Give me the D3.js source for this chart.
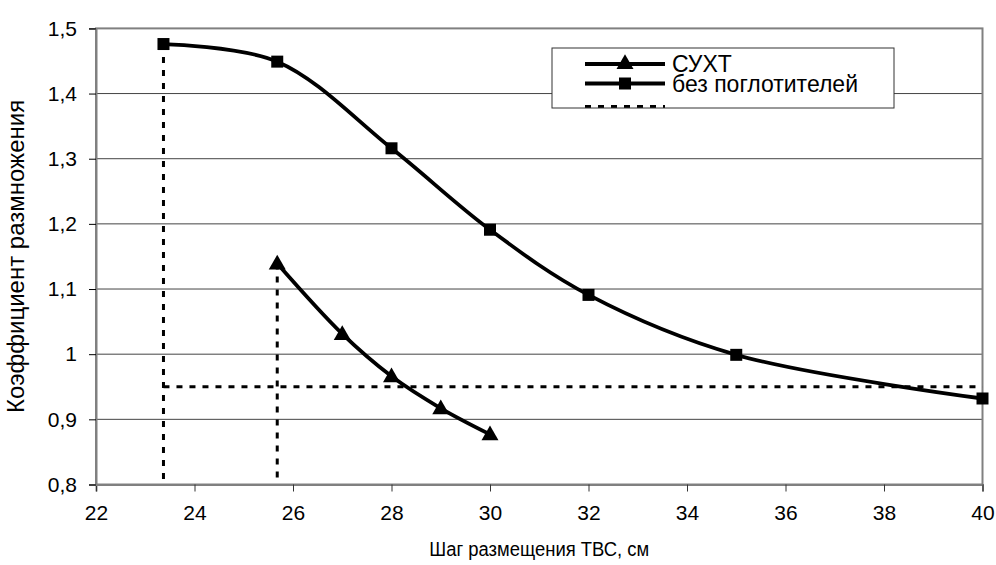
<!DOCTYPE html>
<html>
<head>
<meta charset="utf-8">
<script src="https://cdn.jsdelivr.net/npm/d3@7"></script>
<style>
  body { margin: 0; background: #fff; }
  svg { display: block; font-family: 'Liberation Sans', Arial, sans-serif; }
</style>
</head>
<body>
<div id="chart"></div>
<script>
// shag TVS (cm) and k-eff
const suxtX = [25.68, 27, 28, 29, 30];
const suxtY = [1.139, 1.031, 0.966, 0.917, 0.877];
const bezX = [23.37, 25.68, 28, 30, 32, 35, 40];
const bezY = [1.476, 1.449, 1.316, 1.191, 1.091, 0.999, 0.932];
const refX = [23.37, 25.68];
const refLevel = 0.95;
const xTicks = [22, 24, 26, 28, 30, 32, 34, 36, 38, 40];
const yTicks = [0.8, 0.9, 1, 1.1, 1.2, 1.3, 1.4, 1.5];
const seriesNames = ['СУХТ', 'без поглотителей', ''];

const size = { width: 996, height: 565 };
const margin = { top: 28.4, right: 13.5, bottom: 80.5, left: 96 };

const svg = d3.select('#chart')
  .append('svg')
  .attr('width', size.width)
  .attr('height', size.height);

const x = d3.scaleLinear()
  .domain([22, 40])
  .range([margin.left, size.width - margin.right]);

const y = d3.scaleLinear()
  .domain([0.8, 1.5])
  .range([size.height - margin.bottom, margin.top]);

const fmt = (d) => String(d).replace('.', ',');

// horizontal grid
svg.append('g')
  .selectAll('line')
  .data(yTicks.filter((d) => d > 0.8 && d < 1.5))
  .join('line')
  .attr('x1', x(22)).attr('x2', x(40))
  .attr('y1', (d) => y(d)).attr('y2', (d) => y(d))
  .attr('stroke', '#444')
  .attr('stroke-width', 1);

// plot border
svg.append('rect')
  .attr('x', x(22)).attr('y', y(1.5))
  .attr('width', x(40) - x(22))
  .attr('height', y(0.8) - y(1.5))
  .attr('fill', 'none')
  .attr('stroke', '#808080')
  .attr('stroke-width', 2);

// axes
const xAxis = svg.append('g')
  .attr('transform', `translate(0, ${y(0.8)})`)
  .call(d3.axisBottom(x).tickValues(xTicks).tickSize(7).tickPadding(14).tickFormat(fmt));
xAxis.select('.domain').attr('stroke', '#808080').attr('stroke-width', 2);
xAxis.selectAll('.tick line').attr('stroke', '#333');
xAxis.selectAll('text').attr('font-size', 21).attr('fill', '#000');

const yAxis = svg.append('g')
  .attr('transform', `translate(${x(22)}, 0)`)
  .call(d3.axisLeft(y).tickValues(yTicks).tickSize(7).tickPadding(12).tickFormat(fmt));
yAxis.select('.domain').attr('stroke', '#808080').attr('stroke-width', 2);
yAxis.selectAll('.tick line').attr('stroke', '#000');
yAxis.selectAll('text').attr('font-size', 21).attr('fill', '#000');

svg.append('text')
  .attr('x', (x(22) + x(40)) / 2)
  .attr('y', 556)
  .attr('text-anchor', 'middle')
  .attr('font-size', 20)
  .attr('textLength', 220)
  .attr('lengthAdjust', 'spacingAndGlyphs')
  .text('Шаг размещения ТВС, см');

svg.append('text')
  .attr('transform', `translate(18, ${(y(0.8) + y(1.5)) / 2}) rotate(-90)`)
  .attr('text-anchor', 'middle')
  .attr('dominant-baseline', 'middle')
  .attr('font-size', 24)
  .text('Коэффициент размножения');

// dotted reference lines
const dash = '6,7';
const refG = svg.append('g')
  .attr('stroke', '#000')
  .attr('stroke-width', 3)
  .attr('stroke-dasharray', dash)
  .attr('fill', 'none');
refG.selectAll('.v')
  .data(refX)
  .join('line')
  .attr('x1', (d) => x(d)).attr('x2', (d) => x(d))
  .attr('y1', (d, i) => y(i === 0 ? bezY[0] : suxtY[0]))
  .attr('y2', y(0.8));
refG.append('line')
  .attr('x1', x(refX[0])).attr('x2', x(40))
  .attr('y1', y(refLevel)).attr('y2', y(refLevel));

// series
const line = d3.line()
  .x((d) => x(d[0]))
  .y((d) => y(d[1]))
  .curve(d3.curveCatmullRom.alpha(0.5));

const bez = bezX.map((d, i) => [d, bezY[i]]);
const suxt = suxtX.map((d, i) => [d, suxtY[i]]);

[bez, suxt].forEach((pts) => {
  svg.append('path')
    .attr('d', line(pts))
    .attr('fill', 'none')
    .attr('stroke', '#000')
    .attr('stroke-width', 3.8);
});

const square = d3.symbol(d3.symbolSquare, 144);
const tri = d3.symbol(d3.symbolTriangle, 125);

svg.append('g')
  .selectAll('path')
  .data(bez)
  .join('path')
  .attr('d', square)
  .attr('transform', (d) => `translate(${x(d[0])},${y(d[1])})`)
  .attr('fill', '#000');

svg.append('g')
  .selectAll('path')
  .data(suxt)
  .join('path')
  .attr('d', tri)
  .attr('transform', (d) => `translate(${x(d[0])},${y(d[1]) + 1})`)
  .attr('fill', '#000');

// legend (box cuts the third entry, as in the source)
const lg = { x: 552, y: 48, w: 342, h: 60 };
svg.append('clipPath').attr('id', 'legclip')
  .append('rect').attr('x', lg.x).attr('y', lg.y).attr('width', lg.w).attr('height', lg.h);

svg.append('rect')
  .attr('x', lg.x).attr('y', lg.y)
  .attr('width', lg.w).attr('height', lg.h)
  .attr('fill', '#fff');

const legend = svg.append('g').attr('clip-path', 'url(#legclip)');
const rows = [64, 83.5, 106.5];
seriesNames.forEach((name, i) => {
  const ry = rows[i];
  legend.append('line')
    .attr('x1', 585).attr('x2', 665)
    .attr('y1', ry).attr('y2', ry)
    .attr('stroke', '#000')
    .attr('stroke-width', i === 2 ? 3 : 3.8)
    .attr('stroke-dasharray', i === 2 ? dash : null);
  if (i === 0) {
    legend.append('path').attr('d', tri).attr('transform', `translate(625,${ry})`);
  } else if (i === 1) {
    legend.append('path').attr('d', square).attr('transform', `translate(625,${ry})`);
  }
  legend.append('text')
    .attr('x', 672)
    .attr('y', ry + 8)
    .attr('font-size', 23)
    .text(name);
});

svg.append('rect')
  .attr('x', lg.x).attr('y', lg.y)
  .attr('width', lg.w).attr('height', lg.h)
  .attr('fill', 'none')
  .attr('stroke', '#333')
  .attr('stroke-width', 1);
</script>
</body>
</html>
